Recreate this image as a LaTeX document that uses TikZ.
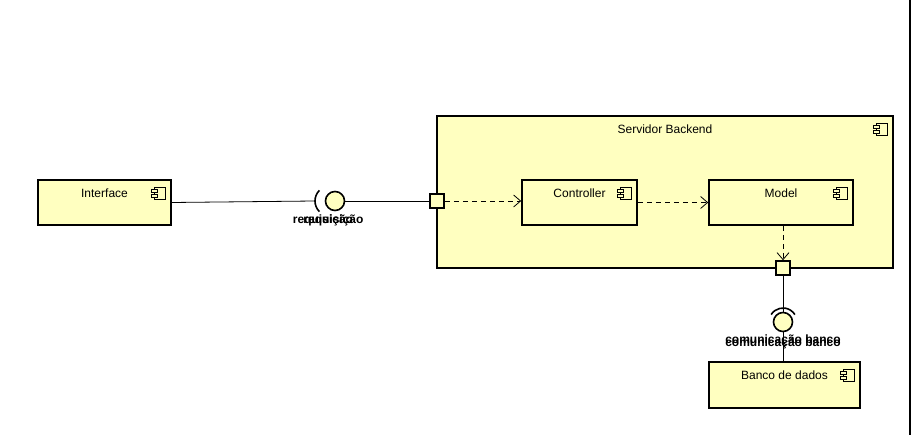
\documentclass[tikz,border=0pt]{standalone}
\usepackage{fontspec}
\setmainfont{Liberation Sans}
\usetikzlibrary{arrows.meta, positioning}
\definecolor{kompgelb}{HTML}{FFFFC0}
\newcommand{\kompicon}[1]{%
  \draw[line width=0.9pt, fill=kompgelb] ([shift={(-17pt,-8pt)}]#1.north east) rectangle ++(11pt,-12pt);
  \draw[line width=0.9pt, fill=kompgelb] ([shift={(-20pt,-10pt)}]#1.north east) rectangle ++(6pt,-3pt);
  \draw[line width=0.9pt, fill=kompgelb] ([shift={(-20pt,-15pt)}]#1.north east) rectangle ++(6pt,-3pt);
}

\begin{document}
\begin{tikzpicture}[
    x=1pt, y=-1pt,
    node distance = 5mm and 5mm,
    komp/.style = {rectangle, draw, line width=1.6pt, fill=kompgelb, inner sep=0pt},
    kname/.style = {anchor=north, yshift=-6.5pt},
    port/.style = {rectangle, draw, line width=1.6pt, fill=kompgelb, minimum size=14pt, inner sep=0pt},
    ball/.style = {circle, draw, line width=1.6pt, fill=kompgelb, minimum size=19pt, inner sep=0pt},
    ilabel/.style = {font=\bfseries\fontsize{12}{14}\selectfont, inner sep=0pt},
    pil/.style = {black, dash pattern=on 5pt off 4pt, line width=0.8pt, -{Straight Barb[length=7pt,width=12pt]}},
    lin/.style = {black, line width=0.8pt},
    font=\fontsize{12}{14}\selectfont
    ]
  \useasboundingbox (0,0) rectangle (913,435);

  \node[komp, minimum width=456pt, minimum height=152pt, label={[kname]north:Servidor Backend}] (servidor) at (665,192) {} ;
  \node[komp, minimum width=133pt, minimum height=45pt, label={[kname]north:Interface}] (interface) at (104.5,202.5) {} ;
  \node[komp, minimum width=115pt, minimum height=45pt, label={[kname]north:Controller}] (controller) at (579.5,202.5) {} ;
  \node[komp, minimum width=144pt, minimum height=45pt, label={[kname]north:Model}] (model) at (781,202.5) {} ;
  \node[komp, minimum width=151pt, minimum height=46pt, label={[kname]north:Banco de dados}] (banco) at (784.5,385) {} ;
  \kompicon{servidor}
  \kompicon{interface}
  \kompicon{controller}
  \kompicon{model}
  \kompicon{banco}

  \node[port] (portreq) at (437,201) {} ;
  \node[port] (portbanco) at (783,268) {} ;

  % interface requisicao
  \coordinate (sockreq) at (315,201) ;
  \draw[line width=1.6pt] ([shift={(135:15)}]330,201) arc[start angle=135, end angle=225, radius=15] ;
  \node[ball] (ballreq) at (335,201) {} ;
  \node[ilabel] (lreq1) at (323,220) {requisição} ;
  \node[ilabel] (lreq2) [right=-50pt of lreq1] {requisição} ;

  % interface banco
  \coordinate (sockbanco) at (783,308) ;
  \draw[line width=1.6pt] ([shift={(212:14)}]783,322) arc[start angle=212, end angle=328, radius=14] ;
  \node[ball] (ballbanco) at (783,322) {} ;
  \node[ilabel] (lbanco1) at (783,340) {comunicação banco} ;
  \node[ilabel] (lbanco2) at (783,343) {comunicação banco} ;

  \draw[lin]
  (interface.east) -- (sockreq) ;
  \draw[lin]
  (ballreq) -- (portreq) ;
  \draw[pil]
  (portreq.east) -- (portreq.east -| controller.west) ;
  \draw[pil]
  (controller) -- (model) ;
  \draw[pil]
  (model.south -| portbanco) -- (portbanco.north) ;
  \draw[lin]
  (portbanco) -- (ballbanco) ;
  \draw[lin]
  (ballbanco.south) -- (banco.north -| ballbanco) ;

  \draw[line width=1.5pt] (910,0) -- (910,435) ;
\end{tikzpicture}
\end{document}
